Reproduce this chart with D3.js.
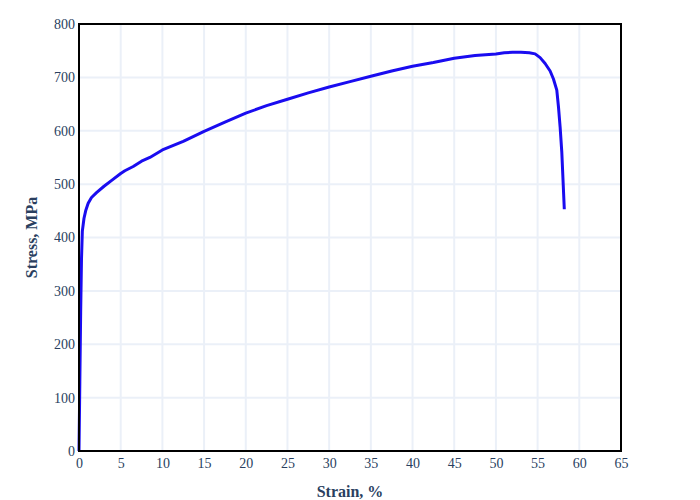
<!DOCTYPE html>
<html>
<head>
<meta charset="utf-8">
<script src="https://cdn.jsdelivr.net/npm/d3@7"></script>
<style>
  html, body { margin: 0; padding: 0; background: #fff; }
  svg { display: block; font-family: "Liberation Serif", "Times New Roman", serif; }
</style>
</head>
<body>
<svg id="chart" width="700" height="500"></svg>
<script>
const strain = [0, 0.1, 0.2, 0.3, 0.4, 0.6, 0.8, 1.1, 1.5, 2.1, 3, 4, 5, 5.5, 6.5, 7.5, 8.5, 10, 12.5, 15, 17.5, 20, 22.5, 25, 27.5, 30, 32.5, 35, 37.5, 40, 42.5, 45, 47.5, 50, 51, 52, 53, 54, 54.7, 55.3, 55.9, 56.5, 56.9, 57.3, 57.5, 57.7, 57.9, 58.2];
const stress = [0, 130, 260, 360, 412, 436, 450, 464, 475, 484, 496, 508, 520, 525, 533, 543, 550, 564, 580, 599, 616, 633, 647, 659, 671, 682, 692, 702, 712, 721, 728, 736, 741, 744, 746, 747, 747, 746, 744, 737, 726, 712, 697, 676, 645, 607, 560, 453];
const xTicks = [0, 5, 10, 15, 20, 25, 30, 35, 40, 45, 50, 55, 60, 65];
const yTicks = [0, 100, 200, 300, 400, 500, 600, 700, 800];
const xTitle = "Strain, %";
const yTitle = "Stress, MPa";

const svg = d3.select("#chart");
const L = 79, R = 621, T = 24, B = 451;
const x = d3.scaleLinear().domain([0, 65]).range([L, R]);
const y = d3.scaleLinear().domain([0, 800]).range([B, T]);
const tickColor = "#2a3f5f";

// gridlines
svg.append("g").selectAll("line").data(xTicks.slice(1, -1)).join("line")
  .attr("x1", d => x(d)).attr("x2", d => x(d)).attr("y1", T).attr("y2", B)
  .attr("stroke", "#ebf0f8").attr("stroke-width", 2);
svg.append("g").selectAll("line").data(yTicks.slice(1, -1)).join("line")
  .attr("y1", d => y(d)).attr("y2", d => y(d)).attr("x1", L).attr("x2", R)
  .attr("stroke", "#ebf0f8").attr("stroke-width", 2);

// data line
const pts = strain.map((s, i) => [s, stress[i]]);
svg.append("path").datum(pts)
  .attr("d", d3.line().x(d => x(d[0])).y(d => y(d[1])))
  .attr("fill", "none").attr("stroke", "#1a0cf0").attr("stroke-width", 3)
  .attr("stroke-linejoin", "round");

// frame
svg.append("rect").attr("x", L).attr("y", T).attr("width", R - L).attr("height", B - T)
  .attr("fill", "none").attr("stroke", "#000").attr("stroke-width", 2);

// axes
const xAxis = d3.axisBottom(x).tickValues(xTicks).tickSize(0).tickPadding(7);
const gx = svg.append("g").attr("transform", `translate(0,${B})`).call(xAxis);
gx.select(".domain").remove();
gx.selectAll("text").attr("fill", tickColor).style("font-size", "14px").style("font-family", "Liberation Serif, serif");

const yAxis = d3.axisLeft(y).tickValues(yTicks).tickSize(0).tickPadding(4);
const gy = svg.append("g").attr("transform", `translate(${L},0)`).call(yAxis);
gy.select(".domain").remove();
gy.selectAll("text").attr("fill", tickColor).style("font-size", "14px").style("font-family", "Liberation Serif, serif");

// titles
svg.append("text").attr("x", (L + R) / 2).attr("y", 497).attr("text-anchor", "middle")
  .attr("fill", tickColor).style("font-size", "16px").style("font-weight", "bold").text(xTitle);
svg.append("text").attr("transform", `translate(37,${(T + B) / 2}) rotate(-90)`).attr("text-anchor", "middle")
  .attr("fill", tickColor).style("font-size", "16px").style("font-weight", "bold").text(yTitle);
</script>
</body>
</html>
